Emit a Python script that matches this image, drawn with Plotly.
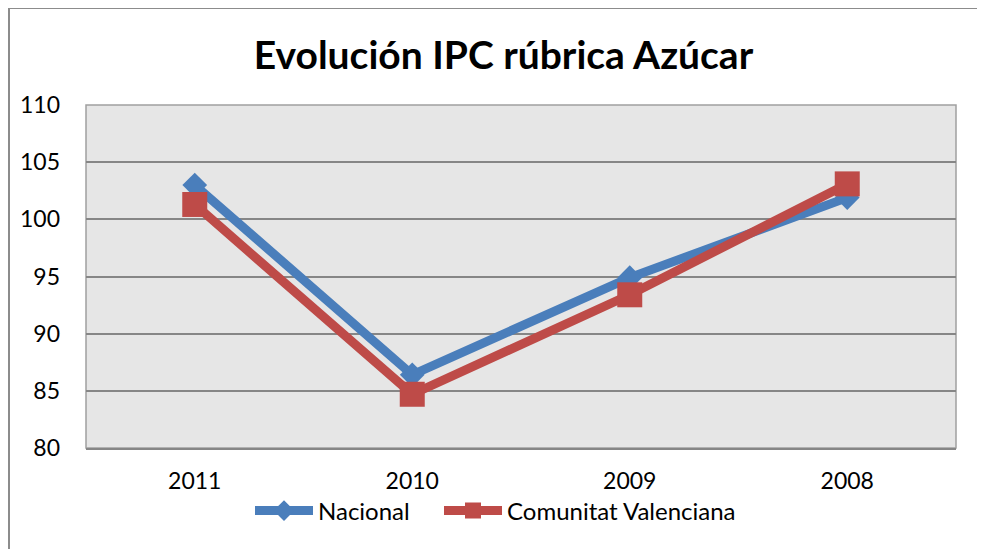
import plotly.graph_objects as go

categories = ["2011", "2010", "2009", "2008"]
nacional = [103.0, 86.4, 94.9, 101.9]
valenciana = [101.3, 84.7, 93.4, 103.1]
y_ticks = [80, 85, 90, 95, 100, 105, 110]

OFF = 8  # page body margin
W, H = 987 - OFF, 549 - OFF
L, R, T, B = 86 - OFF, 956 - OFF, 105 - OFF, 448 - OFF
pw, ph = R - L, B - T

def px(x):
    return (x - OFF - L) / pw

def py(y):
    return (B - (y - OFF)) / ph

FONT = "Lato"
fig = go.Figure()
fig.add_trace(go.Scatter(
    x=categories, y=nacional, name="Nacional", mode="lines+markers",
    line=dict(color="#4A7EBB", width=9),
    marker=dict(symbol="diamond", size=19, color="#4A7EBB"),
    legend="legend",
))
fig.add_trace(go.Scatter(
    x=categories, y=valenciana, name="Comunitat Valenciana", mode="lines+markers",
    line=dict(color="#BE4B48", width=9),
    marker=dict(symbol="square", size=25, color="#BE4B48"),
    legend="legend2",
))

leg_common = dict(orientation="h", yanchor="middle", y=py(511), xanchor="left",
                  font=dict(family=FONT, size=24), itemwidth=58,
                  bgcolor="rgba(0,0,0,0)")

fig.update_layout(
    width=W, height=H,
    margin=dict(l=L, r=W - R, t=T, b=H - B),
    paper_bgcolor="white", plot_bgcolor="#E6E6E6",
    font=dict(family=FONT, size=23, color="black"),
    title=dict(text="<b>Evolución IPC rúbrica Azúcar</b>", x=px(503.5), xanchor="center",
               xref="paper", y=1 - (55 - OFF) / H, yanchor="middle",
               font=dict(family=FONT, size=39, color="black")),
    showlegend=True,
    legend=dict(x=px(250), **leg_common),
    legend2=dict(x=px(439), **leg_common),
    xaxis=dict(type="category", range=[-0.5, 3.5], showgrid=False, zeroline=False,
               showline=True, linecolor="#868686", linewidth=2, ticks="",
               ticklabelstandoff=11, tickfont=dict(size=23)),
    yaxis=dict(range=[80, 110], tickvals=y_ticks, showgrid=True, gridcolor="#868686",
               gridwidth=1.5, zeroline=False, showline=False, ticks="",
               ticklabelstandoff=25, tickfont=dict(size=23)),
)

# plot area outline
fig.add_shape(type="rect", xref="paper", yref="paper", x0=0, x1=1, y0=0, y1=1,
              line=dict(color="#A0A0A0", width=1.5), layer="below", fillcolor="rgba(0,0,0,0)")
# chart border (left and top edges visible)
fig.add_shape(type="line", xref="paper", yref="paper", x0=px(9), x1=px(9), y0=py(8), y1=py(560),
              line=dict(color="#8C8C8C", width=2))
fig.add_shape(type="line", xref="paper", yref="paper", x0=px(9), x1=px(977), y0=py(8), y1=py(8),
              line=dict(color="#8C8C8C", width=2))

fig.write_html("out.html")
